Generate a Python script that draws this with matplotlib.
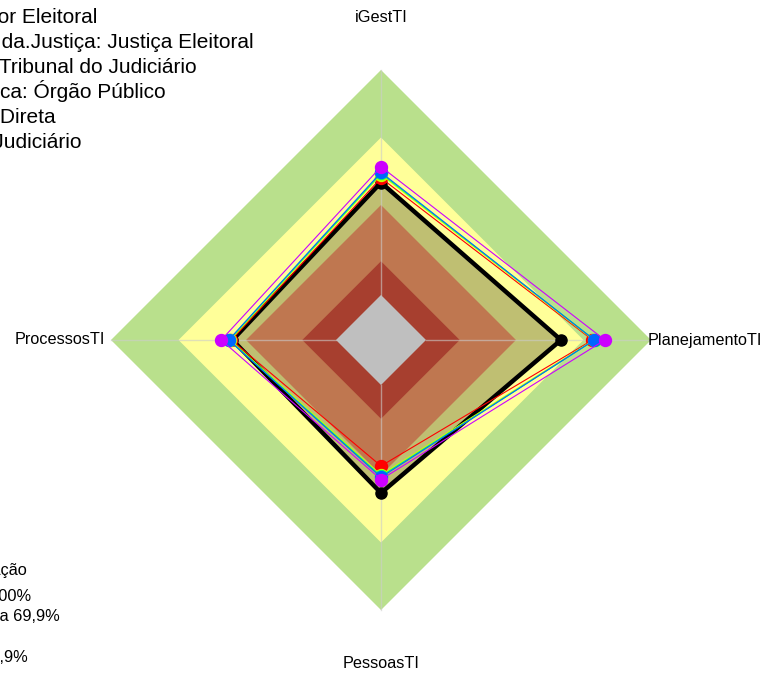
import numpy as np
import matplotlib
matplotlib.use("Agg")
import matplotlib.pyplot as plt

plt.rcParams['font.family'] = ['Liberation Sans', 'DejaVu Sans']

# eixos do radar (sentido horario a partir do topo)
eixos = ["iGestTI", "PlanejamentoTI", "PessoasTI", "ProcessosTI"]
angulos = [90, 0, -90, 180]

# faixas de classificacao (limites superiores, 0 a 1)
faixas = [1.0, 0.70, 0.40, 0.15, 0.0]
cores_faixas = ['#B9E08C', '#FFFF99', '#FFA06B', '#E05540', '#FFFFFF']

# organizacao (linha preta)
orgao = [0.50, 0.60, 0.48, 0.46]

# grupos de comparacao
grupos = [
    [0.52, 0.74, 0.36, 0.465],
    [0.535, 0.745, 0.40, 0.47],
    [0.54, 0.75, 0.405, 0.475],
    [0.545, 0.748, 0.41, 0.477],
    [0.57, 0.795, 0.42, 0.51],
]
cores_grupos = ['#FF0000', '#CCFF00', '#00FF66', '#0066FF', '#CC00FF']

info = [
    "Segmento: Setor Eleitoral",
    "Ramo.da.Justiça: Justiça Eleitoral",
    "Tipo: Tribunal do Judiciário",
    "Natureza.Jurídica: Órgão Público",
    "Administração: Direta",
    "Poder: Judiciário",
]
info_fim = [97, 254, 197, 166, 56, 81]

legenda = [
    "Classificação",
    "Aprimorado: 70 a 100%",
    "Intermediário: 40 a 69,9%",
    "Inexpressivo: 0 a 14,9%",
]
legenda_fim = [27, 31, 60, 28]
legenda_y = [575, 601, 621, 662]

W, H = 762, 673
cx, cy = 381, 340
escala = 225.0
furo = 0.2


def xy(valores):
    r = np.array(valores) + furo
    t = np.radians(angulos)
    x = r * np.cos(t)
    y = r * np.sin(t)
    return np.append(x, x[0]), np.append(y, y[0])


fig = plt.figure(figsize=(W / 100, H / 100), dpi=100)
ax = fig.add_axes([0, 0, 1, 1])
ax.set_xlim(-cx / escala, (W - cx) / escala)
ax.set_ylim(-(H - cy) / escala, cy / escala)
ax.axis('off')

for lim, cor in zip(faixas, cores_faixas):
    x, y = xy([lim] * 4)
    ax.fill(x, y, color=cor, lw=0)

for a in angulos:
    t = np.radians(a)
    ax.plot([furo * np.cos(t), (1 + furo) * np.cos(t)],
            [furo * np.sin(t), (1 + furo) * np.sin(t)],
            color='#CCCCCC', alpha=0.6, lw=1)

x, y = xy(orgao)
ax.fill(x, y, color='black', alpha=0.25, lw=0)
ax.plot(x, y, color='black', lw=3.2)
ax.plot(x[:-1], y[:-1], 'o', color='black', ms=8)

for vals, cor in zip(grupos, cores_grupos):
    x, y = xy(vals)
    ax.plot(x, y, color=cor, lw=0.8)
    ax.plot(x[:-1], y[:-1], 'o', color=cor, ms=8.6)

# rotulos dos eixos
fs = 11.7
ax.text(0, (cy - 17) / escala, eixos[0], ha='center', va='center', fontsize=fs)
ax.text((648 - cx) / escala, 0, eixos[1], ha='left', va='center', fontsize=fs)
ax.text(0, (cy - 664) / escala, eixos[2], ha='center', va='center', fontsize=fs)
ax.text((105 - cx) / escala, 0, eixos[3], ha='right', va='center', fontsize=fs)

for i, (txt, xf) in enumerate(zip(info, info_fim)):
    fig.text(xf / W, 1 - (23 + 25 * i) / H, txt, ha='right', va='baseline', fontsize=15)

for txt, xf, yb in zip(legenda, legenda_fim, legenda_y):
    fig.text(xf / W, 1 - yb / H, txt, ha='right', va='baseline', fontsize=11.8)

fig.savefig("out.png", dpi=100)
